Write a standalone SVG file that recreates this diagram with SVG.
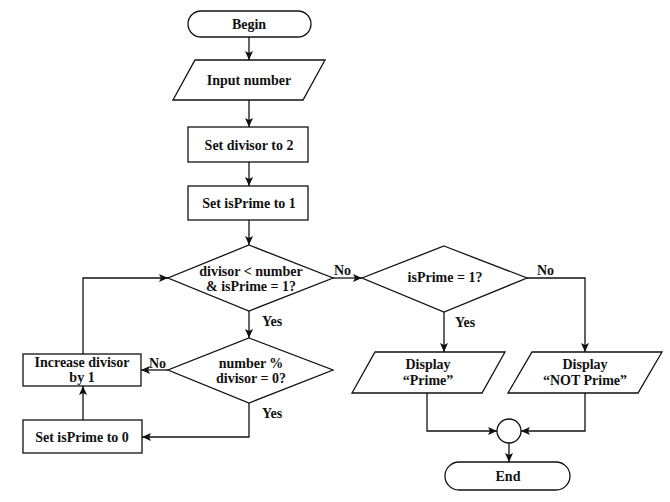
<svg xmlns="http://www.w3.org/2000/svg" width="670" height="502" viewBox="0 0 670 502">
<defs>
<style>
.s{fill:#fff;stroke:#111;stroke-width:1.3}
.c{fill:none;stroke:#111;stroke-width:1.3}
text{font-family:"Liberation Serif","Times New Roman",serif;font-weight:bold;font-size:14px;fill:#111}
.m{text-anchor:middle}
</style>
<marker id="a" markerWidth="10" markerHeight="8" refX="9" refY="4" orient="auto" markerUnits="userSpaceOnUse">
<path d="M0,0 L9,4 L0,8 L2,4 Z" fill="#111"/>
</marker>
</defs>
<rect width="670" height="502" fill="#fff"/>
<g id="connectors">
<line class="c" x1="249" y1="37" x2="249" y2="60" marker-end="url(#a)"/>
<line class="c" x1="249" y1="100" x2="249" y2="127" marker-end="url(#a)"/>
<line class="c" x1="249" y1="162" x2="249" y2="186" marker-end="url(#a)"/>
<line class="c" x1="249" y1="220" x2="249" y2="245" marker-end="url(#a)"/>
<line class="c" x1="249" y1="311" x2="249" y2="338" marker-end="url(#a)"/>
<polyline class="c" points="83,354 83,278 168,278" marker-end="url(#a)"/>
<line class="c" x1="168" y1="370" x2="141" y2="370" marker-end="url(#a)"/>
<polyline class="c" points="249,403 249,437 142,437" marker-end="url(#a)"/>
<line class="c" x1="83" y1="420" x2="83" y2="386" marker-end="url(#a)"/>
<line class="c" x1="333" y1="278" x2="362" y2="278" marker-end="url(#a)"/>
<line class="c" x1="444" y1="312" x2="444" y2="352" marker-end="url(#a)"/>
<polyline class="c" points="527,278 585,278 585,352" marker-end="url(#a)"/>
<polyline class="c" points="427,393 427,431 497,431" marker-end="url(#a)"/>
<polyline class="c" points="585,393 585,431 521,431" marker-end="url(#a)"/>
<line class="c" x1="509" y1="443" x2="509" y2="462" marker-end="url(#a)"/>
<text x="262" y="326">Yes</text>
<text x="262" y="418">Yes</text>
<text x="149" y="368">No</text>
<text x="334" y="275">No</text>
<text x="455" y="327">Yes</text>
<text x="537" y="275">No</text>
</g>
<g id="begin">
<rect class="s" x="188" y="11" width="123" height="26" rx="13"/>
<text class="m" x="249" y="28.5">Begin</text>
</g>
<g id="input">
<polygon class="s" points="195,60 325,60 303,100 173,100"/>
<text class="m" x="249" y="85">Input number</text>
</g>
<g id="setdivisor">
<rect class="s" x="188" y="127" width="120" height="35"/>
<text class="m" x="249" y="149.5">Set divisor to 2</text>
</g>
<g id="setprime1">
<rect class="s" x="188" y="186" width="120" height="34"/>
<text class="m" x="249" y="208">Set isPrime to 1</text>
</g>
<g id="loopcond">
<polygon class="s" points="249,245 333,278 249,311 168,278"/>
<text class="m" x="251" y="276">divisor &lt; number</text>
<text class="m" x="251" y="291">&amp; isPrime = 1?</text>
</g>
<g id="modcond">
<polygon class="s" points="249,338 333,370 249,403 168,370"/>
<text class="m" x="251" y="368">number %</text>
<text class="m" x="251" y="383">divisor = 0?</text>
</g>
<g id="increase">
<rect class="s" x="23" y="354" width="118" height="32"/>
<text class="m" x="82" y="367">Increase divisor</text>
<text class="m" x="82" y="382">by 1</text>
</g>
<g id="setprime0">
<rect class="s" x="23" y="420" width="119" height="33"/>
<text class="m" x="82" y="441.5">Set isPrime to 0</text>
</g>
<g id="primecond">
<polygon class="s" points="444,246 527,278 444,312 362,278"/>
<text class="m" x="445" y="282">isPrime = 1?</text>
</g>
<g id="displayprime">
<polygon class="s" points="375,352 505,352 482,393 352,393"/>
<text class="m" x="428" y="369">Display</text>
<text class="m" x="428" y="385">“Prime”</text>
</g>
<g id="displaynotprime">
<polygon class="s" points="532,352 662,352 638,393 508,393"/>
<text class="m" x="585" y="369">Display</text>
<text class="m" x="585" y="385">“NOT Prime”</text>
</g>
<g id="join">
<circle class="s" cx="509" cy="431" r="12"/>
</g>
<g id="end">
<rect class="s" x="445" y="462" width="125" height="28" rx="14"/>
<text class="m" x="508" y="481">End</text>
</g>
</svg>
